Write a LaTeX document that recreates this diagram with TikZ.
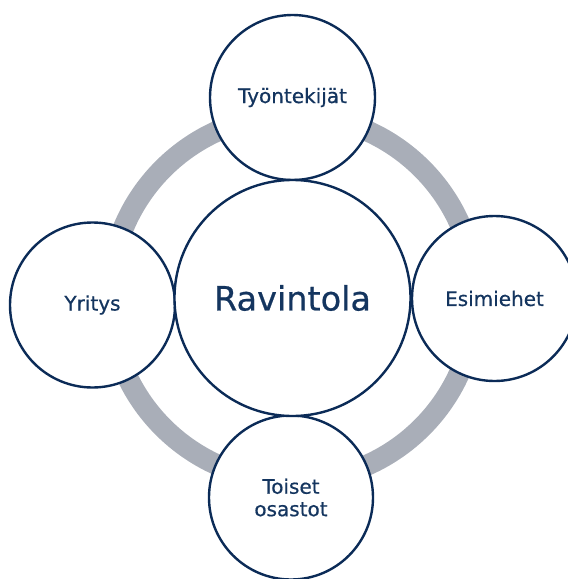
\documentclass[tikz,border=0pt]{standalone}
\usepackage{fontspec}
\setmainfont{DejaVu Sans}[FakeBold=0.6]
\definecolor{ringgray}{HTML}{A9AEB8}
\definecolor{navy}{HTML}{0B2B57}
\definecolor{textnavy}{HTML}{14355F}
\begin{document}
\begin{tikzpicture}[x=1pt,y=-1pt,
  bubble/.style={circle,draw=navy,line width=2.4pt,fill=white,minimum size=#1,inner sep=0pt,text=textnavy,font=\fontsize{20}{22.5}\selectfont,align=center},
  ringstyle/.style={draw=ringgray,line width=21pt}]
\useasboundingbox (0,0) rectangle (568,579);
\coordinate (c) at (292.5,298);
\draw[ringstyle] (c) circle[radius=183];
\node[bubble=165pt] (top) at (292.5,97.5) {Työntekijät};
\node[bubble=165pt] (left) at (92.5,305) {Yritys};
\node[bubble=165pt] (right) at (494.5,298.5) {Esimiehet};
\node[bubble=164pt] (bottom) at (291,497.5) {Toiset\\osastot};
\node[bubble=236pt,font=\fontsize{33.5}{38}\selectfont] (center) at (292.5,298) {Ravintola};
\end{tikzpicture}
\end{document}
